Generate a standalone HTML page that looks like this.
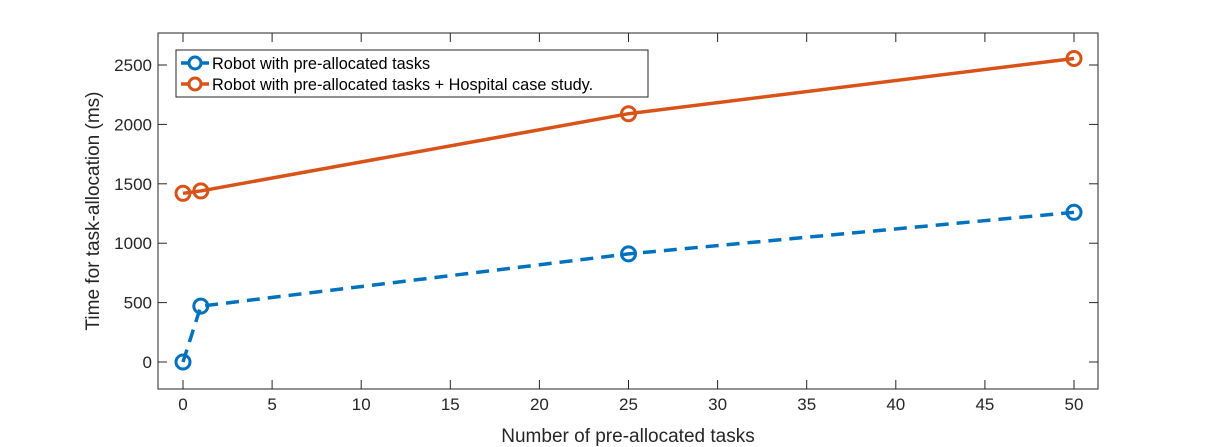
<!DOCTYPE html>
<html><head><meta charset="utf-8"><style>
body{margin:0;background:#fff;}
svg{display:block;font-family:"Liberation Sans",Arial,sans-serif;}
</style></head><body>
<svg width="1215" height="447">
<g id="g"></g>
</svg>
<script>
const xs=[0,1,25,50];
const blueVals=[0,470,910,1260];
const orangeVals=[1420,1440,2090,2555];
const xTicks=[0,5,10,15,20,25,30,35,40,45,50];
const yTicks=[0,500,1000,1500,2000,2500];
const L=158,R=1098,T=33,B=389;
const X=v=>183+v*17.82;
const Y=v=>362-v*0.1188;
const g=document.getElementById('g');
const NS='http://www.w3.org/2000/svg';
function mk(t,a,p){const e=document.createElementNS(NS,t);for(const k in a)e.setAttribute(k,a[k]);(p||g).appendChild(e);return e;}
let ax=mk('rect',{x:L,y:T,width:R-L,height:B-T,fill:'none',stroke:'#262626','stroke-width':1});


xTicks.forEach(v=>{const x=X(v);
mk('line',{x1:x,x2:x,y1:B,y2:B-9,stroke:'#262626'});mk('line',{x1:x,x2:x,y1:T,y2:T+9,stroke:'#262626'});
const t=mk('text',{x:x,y:B+21,'text-anchor':'middle','font-size':17,fill:'#262626'});t.textContent=v;

});
yTicks.forEach(v=>{const y=Y(v);
mk('line',{x1:L,x2:L+9,y1:y,y2:y,stroke:'#262626'});mk('line',{x1:R,x2:R-9,y1:y,y2:y,stroke:'#262626'});
const t=mk('text',{x:L-6,y:y+6,'text-anchor':'end','font-size':17,fill:'#262626'});t.textContent=v;

});
let xt=mk('text',{x:628,y:442,'text-anchor':'middle','font-size':19,fill:'#262626'});xt.textContent='Number of pre-allocated tasks';


let yt=mk('text',{x:0,y:0,'text-anchor':'middle','font-size':19,fill:'#262626',transform:'translate(99,'+((T+B)/2)+') rotate(-90)'});yt.textContent='Time for task-allocation (ms)';


function series(vals,col,dash,name){
const pts=xs.map((x,i)=>X(x)+','+Y(vals[i])).join(' ');
const pl=mk('polyline',{points:pts,fill:'none',stroke:col,'stroke-width':3.5,'stroke-dasharray':dash});


xs.forEach((x,i)=>{const c=mk('circle',{cx:X(x),cy:Y(vals[i]),r:7,fill:'none',stroke:col,'stroke-width':3});

});}
series(blueVals,'#0072BD','13,8','blue-series');
series(orangeVals,'#D95319','none','orange-series');
const lg=mk('g',{});


mk('rect',{x:176,y:50,width:472,height:47,fill:'#fff',stroke:'#262626'},lg);
[['#0072BD','none','Robot with pre-allocated tasks',64],['#D95319','none','Robot with pre-allocated tasks + Hospital case study.',85]].forEach(([c,d,txt,y])=>{
mk('line',{x1:181,x2:209,y1:y-1,y2:y-1,stroke:c,'stroke-width':3.5,'stroke-dasharray':d},lg);
mk('circle',{cx:195,cy:y-1,r:6,fill:'#fff',stroke:c,'stroke-width':3},lg);
const t=mk('text',{x:212,y:y+5,'font-size':16.3,fill:'#000'},lg);t.textContent=txt;

});
</script>
</body></html>
